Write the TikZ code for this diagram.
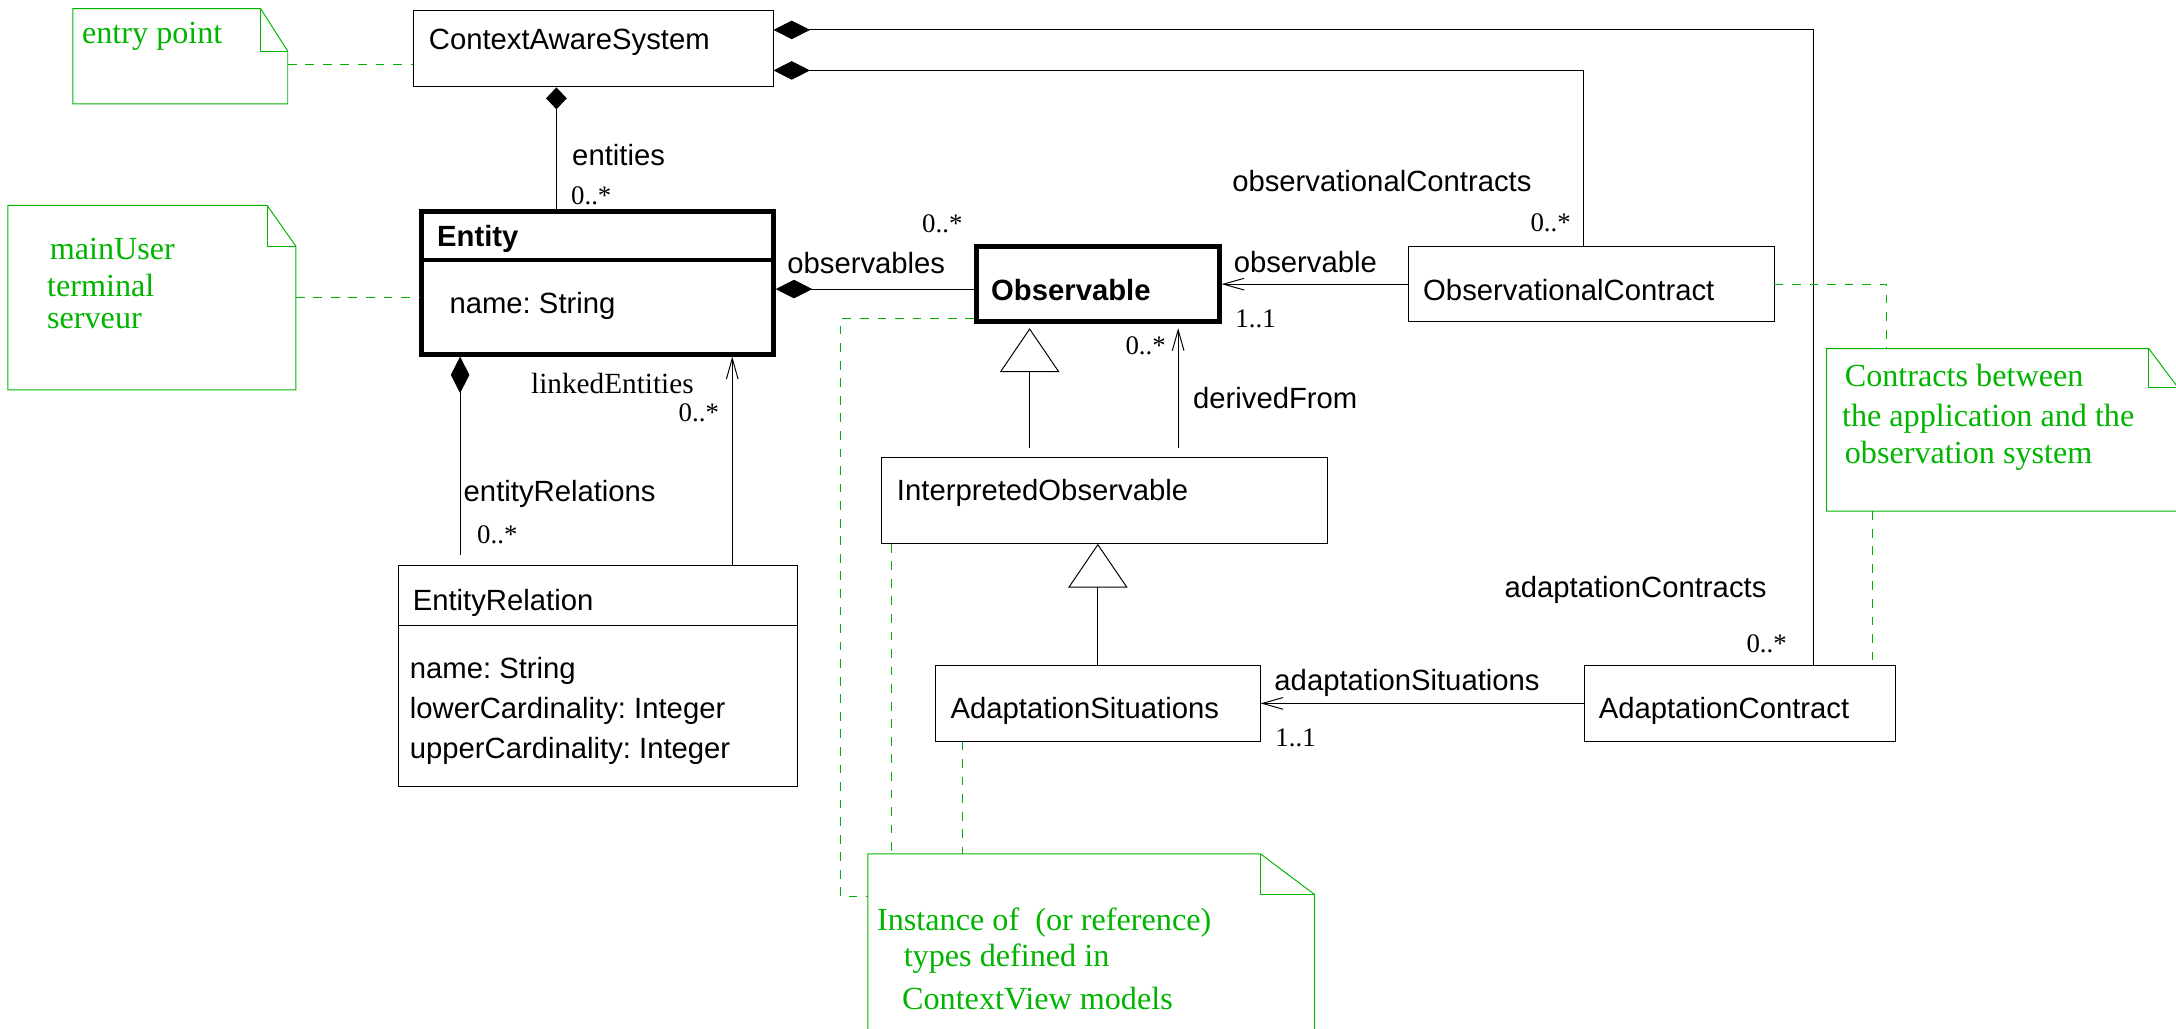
\documentclass[tikz,border=0pt]{standalone}
\usepackage{fontspec}
\setmainfont{Liberation Serif}
\setsansfont{Liberation Sans}
\usetikzlibrary{arrows.meta,calc,fit}
\definecolor{noteGreen}{RGB}{0,180,0}
\frenchspacing

\newcommand{\noteSheet}[3]{%
  \draw[sheetLine] (#1.north west) -- ($(#1.north east)+(-#2,0)$) -- ($(#1.north east)+(0,#3)$) -- (#1.south east) -- (#1.south west) -- cycle;
  \draw[sheetLine] ($(#1.north east)+(-#2,0)$) -- ($(#1.north east)+(-#2,#3)$) -- ($(#1.north east)+(0,#3)$);}

\begin{document}
\begin{tikzpicture}[x=0.02cm,y=-0.02cm,font=\sffamily\fontsize{12}{14}\selectfont,
    classBox/.style={draw,inner sep=0pt},
    keyBox/.style={classBox,line width=2pt},
    noteArea/.style={inner sep=0pt},
    sheetLine/.style={draw=noteGreen},
    txt/.style={anchor=base west,inner sep=0pt},
    mult/.style={txt,font=\rmfamily\fontsize{11}{13}\selectfont},
    noteText/.style={txt,text=noteGreen,font=\rmfamily\fontsize{13.2}{16}\selectfont},
    compose/.style={arrows={Diamond[length=15pt,width=7.6pt]-}},
    navig/.style={arrows={-Straight Barb[length=8.5pt,width=4.8pt]}},
    generalize/.style={arrows={-Triangle[open,length=18pt,width=24.4pt]}},
    noteLink/.style={noteGreen,dash pattern=on 3.6pt off 3.6pt}]
    \useasboundingbox (0,0) rectangle (1568,741);

    \node[classBox, fit={(298,7.5) (557,62.6)}] (cas) {};
    \node[keyBox, fit={(303.8,152.4) (557.2,255.2)}] (entity) {};
    \node[keyBox, fit={(703.7,177.9) (878.5,231.7)}] (observable) {};
    \node[classBox, fit={(1014.8,177.7) (1278.3,231.8)}] (obsContract) {};
    \node[classBox, fit={(635.3,329.8) (956.7,391.5)}] (interp) {};
    \node[classBox, fit={(674.2,479.7) (908,534)}] (adaptSit) {};
    \node[classBox, fit={(1141.4,479.7) (1365.8,534)}] (adaptContract) {};
    \node[classBox, fit={(287.5,407.6) (574.8,566.9)}] (entityRel) {};

    \coordinate (entSep) at (0,187.4);
    \coordinate (relSep) at (0,450.4);
    \draw[line width=1.7pt] (entity.west |- entSep) -- (entity.east |- entSep);
    \draw (entityRel.west |- relSep) -- (entityRel.east |- relSep);

    \node[txt] (casName) at (308.7,35.5) {ContextAwareSystem};
    \node[txt] (entityName) at (314.7,177.8) {\bfseries Entity};
    \node[txt] (entityAttr) at (323.6,225.8) {name: String};
    \node[txt] (observableName) at (713.9,216.2) {\bfseries Observable};
    \node[txt] (obsContractName) at (1025.2,216.2) {ObservationalContract};
    \node[txt] (interpName) at (646,360.3) {InterpretedObservable};
    \node[txt] (adaptSitName) at (684.6,517.6) {AdaptationSituations};
    \node[txt] (adaptContractName) at (1151.7,517.6) {AdaptationContract};
    \node[txt] (entityRelName) at (297.1,439.6) {EntityRelation};
    \node[txt] (relAttrA) at (295,488.8) {name: String};
    \node[txt] (relAttrB) at (295,517.6) {lowerCardinality: Integer};
    \node[txt] (relAttrC) at (295,546.5) {upperCardinality: Integer};

    % notes
    \node[noteArea, fit={(52.8,6.5) (207,74.5)}] (entryNote) {};
    \node[noteArea, fit={(6,148.4) (212.8,280.5)}] (userNote) {};
    \node[noteArea, fit={(1316.6,251.5) (1569,368)}] (contractNote) {};
    \node[noteArea, fit={(625.7,615.6) (946.9,760)}] (instanceNote) {};
    \noteSheet{entryNote}{19.6}{30.7}
    \noteSheet{userNote}{20.6}{29.3}
    \noteSheet{contractNote}{21}{28}
    \noteSheet{instanceNote}{39}{29.3}

    \node[noteText] (entryText) at (58.8,31.2) {entry point};
    \node[noteText] (userTextA) at (35.5,186.9) {mainUser};
    \node[noteText] (userTextB) at (33.6,213.8) {terminal};
    \node[noteText] (userTextC) at (33.6,236.6) {serveur};
    \node[noteText] (contractTextA) at (1329,278.6) {Contracts between};
    \node[noteText] (contractTextB) at (1327,307.5) {the application and the};
    \node[noteText] (contractTextC) at (1329,333.9) {observation system};
    \node[noteText] (instanceTextA) at (631.7,670.2) {Instance of\ \ (or reference)};
    \node[noteText] (instanceTextB) at (650.9,696.6) {types defined in};
    \node[noteText] (instanceTextC) at (649.7,727.3) {ContextView models};

    % associations
    \coordinate (casFoot) at ($(cas.south west)+(103.3,0)$);
    \coordinate (casA) at ($(cas.north east)+(0,14.4)$);
    \coordinate (casB) at ($(cas.north east)+(0,43.6)$);
    \coordinate (adaptTop) at ($(adaptContract.north west)+(166,0)$);
    \coordinate (obsTop) at ($(obsContract.north west)+(126.3,0)$);
    \coordinate (obsIn) at ($(observable.west)+(0,3.5)$);
    \coordinate (derivedFoot) at ($(interp.north west)+(214,0)$);
    \coordinate (interpTop) at ($(interp.north west)+(107,0)$);
    \coordinate (relFoot) at ($(entity.south west)+(29.5,0)$);
    \coordinate (linkFoot) at ($(entityRel.north west)+(240.5,0)$);

    \draw[arrows={Diamond[length=9pt,width=8.5pt]-}] (casFoot) -- (casFoot |- entity.north);
    \draw[compose] (casA) -| (adaptTop);
    \draw[compose] (casB) -| (obsTop);
    \draw[compose] (entity.east |- obsIn) -- (obsIn);
    \draw[navig] (obsContract.west) -- (observable.east |- obsContract.west);
    \draw[navig, shorten <=0.13cm, shorten >=0.06cm] (derivedFoot) -- (derivedFoot |- observable.south);
    \draw[generalize, shorten <=0.13cm, shorten >=0.06cm] (interpTop) -- (interpTop |- observable.south);
    \draw[generalize] (adaptSit.north) -- (adaptSit.north |- interp.south);
    \draw[navig] (adaptContract.west) -- (adaptSit.east |- adaptContract.west);
    \draw[compose, shorten >=0.14cm] (relFoot) -- (relFoot |- entityRel.north);
    \draw[navig] (linkFoot) -- (linkFoot |- entity.south);

    \node[txt] (entitiesRole) at (412,118.9) {entities};
    \node[mult] (entitiesMult) at (411.2,147.7) {0..*};
    \node[txt] (observablesRole) at (567,196.8) {observables};
    \node[mult] (observablesMult) at (664.2,167.4) {0..*};
    \node[txt] (observableRole) at (888.7,196.5) {observable};
    \node[mult] (observableMult) at (889.9,236.1) {1..1};
    \node[txt] (obsContractsRole) at (887.6,138.1) {observationalContracts};
    \node[mult] (obsContractsMult) at (1102.5,167) {0..*};
    \node[txt] (derivedRole) at (859.4,294.2) {derivedFrom};
    \node[mult] (derivedMult) at (810.7,255.8) {0..*};
    \node[txt] (situationsRole) at (918,497.9) {adaptationSituations};
    \node[mult] (situationsMult) at (918.7,538.1) {1..1};
    \node[txt] (adaptContractsRole) at (1083.8,430.4) {adaptationContracts};
    \node[mult] (adaptContractsMult) at (1258.2,470.1) {0..*};
    \node[txt] (relationsRole) at (333.8,361.5) {entityRelations};
    \node[mult] (relationsMult) at (343.5,391.5) {0..*};
    \node[txt, font=\rmfamily\fontsize{12}{14}\selectfont] (linkedRole) at (382.4,283.3) {linkedEntities};
    \node[mult] (linkedMult) at (488.7,303.9) {0..*};

    % note links
    \coordinate (casDot) at ($(cas.north west)+(0,39.6)$);
    \coordinate (noteDrop) at ($(contractNote.north west)+(43.4,0)$);
    \coordinate (noteRise) at ($(contractNote.south west)+(33.3,0)$);
    \coordinate (obsCorner) at ($(observable.south west)+(0,-3.7)$);
    \coordinate (instanceIn) at ($(instanceNote.north west)+(0,31)$);
    \coordinate (interpFoot) at ($(interp.south west)+(7.3,0)$);
    \coordinate (sitFoot) at ($(adaptSit.south west)+(19.5,0)$);

    \draw[noteLink] (entryNote.east |- casDot) -- (casDot);
    \draw[noteLink] (userNote.east) -- (entity.west |- userNote.east);
    \draw[noteLink] (obsContract.east) -| (noteDrop);
    \draw[noteLink] (noteRise) -- (noteRise |- adaptContract.north);
    \draw[noteLink] (obsCorner) -| ($(instanceIn)+(-19.7,0)$) -- (instanceIn);
    \draw[noteLink] (interpFoot) -- (interpFoot |- instanceNote.north);
    \draw[noteLink] (sitFoot) -- (sitFoot |- instanceNote.north);
\end{tikzpicture}
\end{document}
